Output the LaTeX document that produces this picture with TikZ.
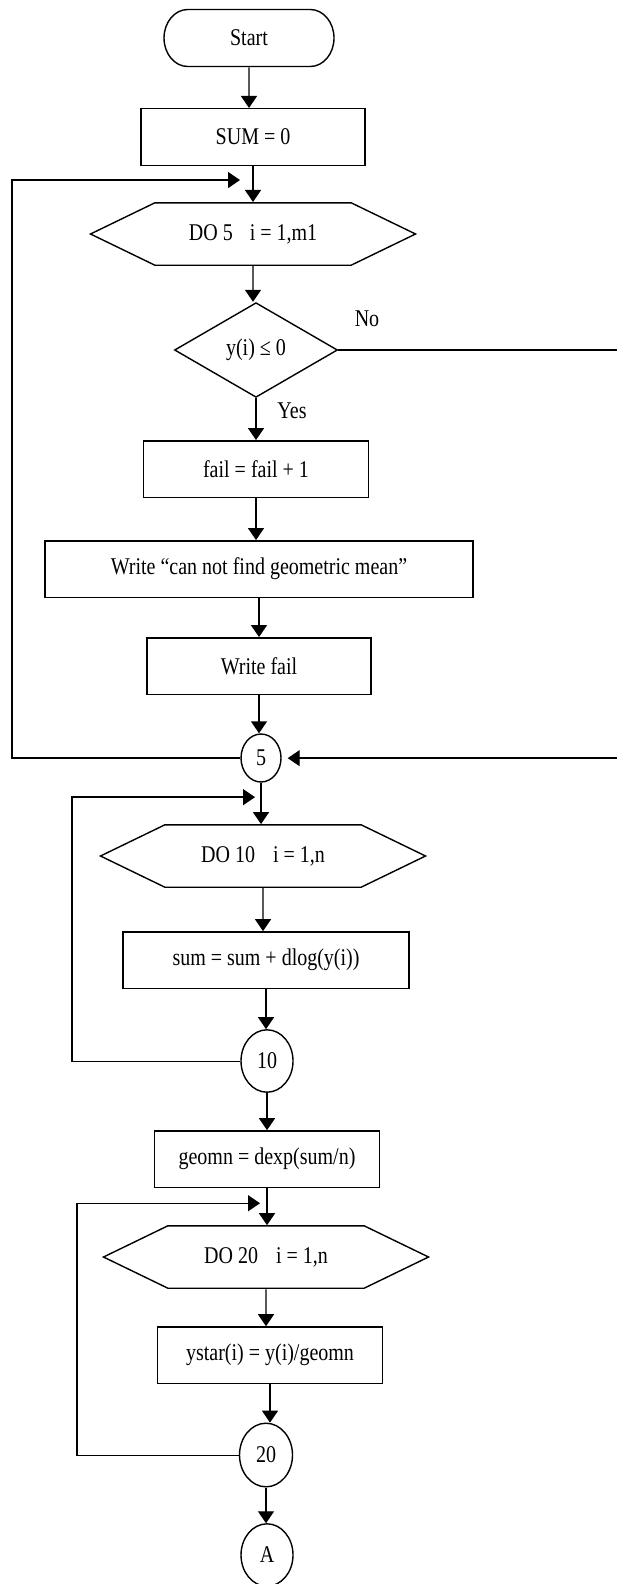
\documentclass[tikz,border=0pt]{standalone}
\usepackage{fontspec}
\setmainfont{Liberation Serif}
\usetikzlibrary{
  shapes.geometric,
  shapes.misc,
  shapes.symbols,
  arrows.meta
}
\tikzset{
  % Start terminal
  term/.style={
    rounded rectangle, draw, line width=1.4pt,
    minimum width=170pt, minimum height=47.5pt, inner sep=0pt
  },
  % Process box, width given as argument
  proc/.style={
    rectangle, draw, line width=1.4pt,
    minimum width=#1, minimum height=47pt, inner sep=0pt
  },
  % DO loop hexagon
  doloop/.style={
    signal, signal to=west and east, signal pointer angle=44,
    draw, line width=1.4pt,
    minimum width=325pt, minimum height=52pt, inner sep=0pt
  },
  % Decision diamond
  dec/.style={
    diamond, aspect=2, draw, line width=1.4pt,
    minimum width=163pt, minimum height=79pt, inner sep=0pt
  },
  % Connector circle
  conn/.style={
    circle, draw, line width=1.4pt,
    minimum size=#1, inner sep=0pt
  },
  % Arrow
  arr/.style={
    -{Triangle[length=12pt,width=16pt]},
    line width=1.4pt
  },
  % Edge label
  lbl/.style={inner sep=0pt}
}

\begin{document}
\begin{tikzpicture}[x=1pt, y=-0.8333pt, yscale=1.2,
  every node/.append style={transform shape},
  font=\fontsize{20}{24}\selectfont]

  \useasboundingbox (0,0) rectangle (616,1584);

  % ---- first loop: DO 5 ----
  \node[term]         (start) at (249,38)  {Start};
  \node[proc=224pt]   (sum0)  at (253,137) {SUM = 0};
  \node[doloop]       (do5)   at (253,234) {DO 5\hspace{0.85em}i = 1,m1};
  \node[dec]          (test)  at (256,350) {y(i) ≤ 0};
  \node[proc=225pt]   (fail)  at (256,469) {fail = fail + 1};
  \node[proc=428pt]   (msg)   at (259,569) {Write “can not find geometric mean”};
  \node[proc=224pt]   (wfail) at (259,666) {Write fail};
  \node[conn=40pt]    (c5)    at (261,758) {5};

  \node[lbl] (no)  at (367,319) {No};
  \node[lbl] (yes) at (292,411) {Yes};

  % ---- second loop: DO 10 ----
  \node[doloop]       (do10)  at (263,856)  {DO 10\hspace{0.9em}i = 1,n};
  \node[proc=286pt]   (slog)  at (266,960)  {sum = sum + dlog(y(i))};
  \node[conn=52pt]    (c10)   at (267,1061) {10};

  % ---- third loop: DO 20 ----
  \node[proc=225pt]   (geo)   at (267,1159) {geomn = dexp(sum/n)};
  \node[doloop]       (do20)  at (266,1257) {DO 20\hspace{0.9em}i = 1,n};
  \node[proc=225pt]   (ystar) at (270,1355) {ystar(i) = y(i)/geomn};
  \node[conn=53pt]    (c20)   at (266,1455) {20};
  \node[conn=52pt]    (ca)    at (267,1555) {A};

  % loop corners
  \coordinate (lp5)  at (12,180);
  \coordinate (in5)  at (240,180);
  \coordinate (nr)   at (620,350);
  \coordinate (lp10) at (72,797);
  \coordinate (in10) at (255,797);
  \coordinate (lp20) at (77,1203);
  \coordinate (in20) at (260,1203);

  % ---- ARROWS ----
  \draw[arr] (start) -- (start |- sum0.north);
  \draw[arr] (sum0)  -- (sum0 |- do5.north);
  \draw[arr] (do5)   -- (do5 |- test.north);
  \draw[arr] (test)  -- (test |- fail.north);
  \draw[arr] (fail)  -- (fail |- msg.north);
  \draw[arr] (msg)   -- (msg |- wfail.north);
  \draw[arr] (wfail) -- (wfail |- c5.north);
  \draw[arr] (c5)    -- (c5 |- do10.north);
  \draw[arr] (do10)  -- (do10 |- slog.north);
  \draw[arr] (slog)  -- (slog |- c10.north);
  \draw[arr] (c10)   -- (c10 |- geo.north);
  \draw[arr] (geo)   -- (geo |- do20.north);
  \draw[arr] (do20)  -- (do20 |- ystar.north);
  \draw[arr] (ystar) -- (ystar |- c20.north);
  \draw[arr] (c20)   -- (c20 |- ca.north);

  % back edges
  \draw[arr] (c5.west)  -| (lp5)  -- (in5);
  \draw[arr] (c10.west) -| (lp10) -- (in10);
  \draw[arr] (c20.west) -| (lp20) -- (in20);
  \draw[arr, shorten >=6pt] (test.east) -- (nr) |- (c5.east);

\end{tikzpicture}
\end{document}
